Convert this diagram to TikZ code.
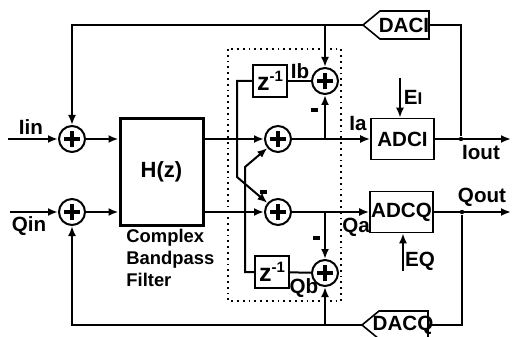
\documentclass[tikz,border=0pt]{standalone}
\usepackage{fontspec}
\setmainfont{Liberation Sans}
\usetikzlibrary{arrows.meta,calc}
\begin{document}
\begin{tikzpicture}[x=0.5pt,y=-0.5pt,
  font=\fontsize{10.3}{12}\selectfont\bfseries,
  wire/.style={line width=1pt},
  arr/.style={wire,-{Latex[length=5pt,width=4pt]}},
  adder/.style={circle,draw,line width=1pt,minimum size=13pt,inner sep=0pt,
    path picture={\draw[line width=1.7pt]
      ([xshift=-4pt]path picture bounding box.center) -- ([xshift=4pt]path picture bounding box.center)
      ([yshift=-4pt]path picture bounding box.center) -- ([yshift=4pt]path picture bounding box.center);}},
  adcbox/.style={draw,line width=0.8pt,minimum width=31.5pt,minimum height=20.5pt,inner sep=0pt},
  zbox/.style={draw,line width=1pt,minimum width=17pt,minimum height=16pt,inner sep=0pt},
  lbl/.style={inner sep=0pt},
  minus/.style={fill,minimum width=3.5pt,minimum height=1.6pt,inner sep=0pt},
  dot/.style={circle,fill,inner sep=0pt,minimum size=2.2pt}]
\useasboundingbox (0,0) rectangle (512,336);

% dotted block
\draw[line width=0.9pt,dotted] (228,49) rectangle (341,301);

% adders
\node[adder] (addIin) at (72,139) {};
\node[adder] (addQin) at (72,212) {};
\node[adder] (addIa) at (278,139) {};
\node[adder] (addQa) at (278,212) {};
\node[adder] (addIb) at (325,81) {};
\node[adder] (addQb) at (325,273) {};

% filter
\node[draw,line width=1.5pt,minimum width=41.5pt,minimum height=53pt,inner sep=0pt] (H) at (161.5,172) {\fontsize{11}{12}\selectfont H(z)};
\node[lbl,anchor=north west,align=left,font=\fontsize{9.2}{11}\selectfont\bfseries] (cbf) at (126,229) {Complex\\Bandpass\\Filter};

% delay boxes
\node[zbox] (zI) at (270,81) {\fontsize{12.5}{12}\selectfont z\raisebox{4.5pt}{\fontsize{7.5}{8}\selectfont -1}};
\node[zbox] (zQ) at (272,272) {\fontsize{12.5}{12}\selectfont z\raisebox{4.5pt}{\fontsize{7.5}{8}\selectfont -1}};

% ADCs
\node[adcbox] (ADCI) at (402.5,139) {ADCI};
\node[adcbox] (ADCQ) at (401.5,212) {ADCQ};

% DACs
\draw[line width=0.8pt] (363,25) -- (380,11) -- (429,11) -- (429,39) -- (380,39) -- cycle;
\node[lbl] (DACI) at (404,25) {DACI};
\coordinate (daciT) at (363,25);
\coordinate (daciR) at (429,25);
\draw[line width=0.8pt] (362,325) -- (379,311) -- (428,311) -- (428,339) -- (379,339) -- cycle;
\node[lbl] (DACQ) at (403,325) {DACQ};
\coordinate (dacqT) at (362,325);
\coordinate (dacqR) at (428,325);

% inputs
\coordinate (iinS) at (8,139);
\coordinate (qinS) at (10,212);
\draw[arr] (iinS) -- (addIin);
\draw[arr] (qinS) -- (addQin);
\node[lbl] (iinL) at (31,127) {Iin};
\node[lbl] (qinL) at (29,226) {Qin};
\draw[arr] (addIin) -- (addIin -| H.west);
\draw[arr] (addQin) -- (addQin -| H.west);

% filter outputs
\draw[arr] (H.east |- addIa) -- (addIa);
\draw[arr] (H.east |- addQa) -- (addQa);

% I path
\draw[arr] (addIa) -- (ADCI);
\draw[arr] (addIa -| addIb) -- (addIb);
\draw[wire] (addIb) -- (zI);
\node[lbl] (Ib) at (300,71) {Ib};
\node[lbl] (Ia) at (358,124) {Ia};
\node[minus] (mI) at (314,110) {};

% Q path
\draw[arr] (addQa) -- (ADCQ);
\draw[arr] (addQa -| addQb) -- (addQb);
\draw[wire] (addQb) -- (zQ);
\node[lbl] (Qb) at (304,288) {Qb};
\node[lbl] (Qa) at (356,227) {Qa};
\node[minus] (mQ) at (316,238) {};

% cross coupling
\coordinate (k1) at (237,177);
\coordinate (k2) at (245,167);
\draw[arr] (zI.west) -- (zI.west -| k1) -- (k1) -- (addQa);
\draw[arr] (zQ.west) -- (zQ.west -| k2) -- (k2) -- (addIa);
\node[minus] (mX) at (263,192) {};

% I feedback
\draw[arr] (daciT) -- (daciT -| addIin) -- (addIin);
\draw[arr] (daciT -| addIb) -- (addIb);
\coordinate (ioutE) at (511,139);
\node[dot] (jI) at (461,139) {};
\draw[arr] (ADCI) -- (ioutE);
\draw[wire] (daciR) -- (daciR -| jI) -- (jI);
\node[lbl] (Iout) at (481,153) {Iout};

% Q feedback
\draw[arr] (dacqT) -- (dacqT -| addQin) -- (addQin);
\draw[arr] (dacqT -| addQb) -- (addQb);
\coordinate (qoutE) at (511,212);
\node[dot] (jQ) at (462,212) {};
\draw[arr] (ADCQ) -- (qoutE);
\draw[wire] (dacqR) -- (dacqR -| jQ) -- (jQ);
\node[lbl] (Qout) at (482,197) {Qout};

% quantization error inputs
\coordinate (eIs) at (400,78);
\coordinate (eQs) at (403,271);
\draw[arr] (eIs) -- (eIs |- ADCI.north);
\draw[arr] (eQs) -- (eQs |- ADCQ.south);
\node[lbl] (EI) at (413,97) {E{\fontsize{8.5}{9}\selectfont I}};
\node[lbl] (EQ) at (420,261) {EQ};
\end{tikzpicture}
\end{document}
